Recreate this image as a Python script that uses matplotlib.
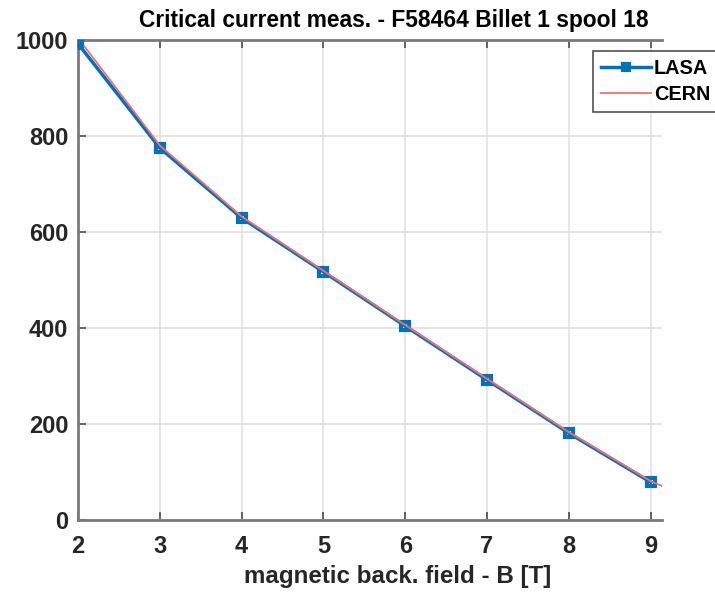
import matplotlib
matplotlib.use("Agg")
import matplotlib.pyplot as plt

field_lasa = [2, 3, 4, 5, 6, 7, 8, 9]
ic_lasa = [992, 775, 629, 517, 404, 292, 181, 79]
field_cern = [2.08, 3, 4, 5, 6, 7, 8, 9, 9.15]
ic_cern = [986, 780, 632, 519, 406, 294, 183, 81, 70]
xticks = [2, 3, 4, 5, 6, 7, 8, 9]
yticks = [0, 200, 400, 600, 800, 1000]

plt.rcParams['font.family'] = ['Liberation Sans', 'DejaVu Sans']
plt.rcParams['font.weight'] = 'bold'

fig = plt.figure(figsize=(7.15, 5.93), dpi=100)
ax = fig.add_axes([0.109, 0.123, 0.817, 0.810])

ax.plot(field_lasa, ic_lasa, color='#0072BD', lw=2.5, marker='s', ms=6,
        mfc='none', mew=3, label='LASA', zorder=3)
ax.plot(field_cern, ic_cern, color='#ff6b6b', lw=1.3, label='CERN', zorder=4)

ax.set_xlim(2, 9.14)
ax.set_ylim(0, 1000)
ax.set_xticks(xticks)
ax.set_yticks(yticks)
ax.grid(True, color='#e0e0e0', lw=1.2)
ax.set_axisbelow(True)
for s in ['left', 'bottom', 'top']:
    ax.spines[s].set_color('#7a7a7a')
    ax.spines[s].set_linewidth(2)
ax.spines['right'].set_visible(False)
ax.tick_params(direction='in', top=True, right=False, length=6, width=1.2,
               color='#4d4d4d', labelsize=17, labelcolor='#262626')
ax.tick_params(axis='x', pad=11)
ax.tick_params(axis='y', pad=7)
for lab in ax.get_xticklabels() + ax.get_yticklabels():
    lab.set_fontweight('bold')

ax.set_title('Critical current meas. - F58464 Billet 1 spool 18', fontsize=16.4,
             fontweight='bold', pad=9, x=0.541)
ax.set_xlabel('magnetic back. field - B [T]', fontsize=17.4, fontweight='bold',
              labelpad=5, color='#262626', x=0.548)

leg = ax.legend(loc='upper right', fontsize=14.3, frameon=True, fancybox=False,
                edgecolor='#262626', borderpad=0.4, handlelength=2.5,
                labelspacing=0.35, handletextpad=0.15,
                bbox_to_anchor=(718 / 715, 1 - 51 / 593),
                bbox_transform=fig.transFigure, borderaxespad=0)
leg.get_frame().set_linewidth(1.2)
leg.legend_handles[0].set_markerfacecolor('#0072BD')
leg.legend_handles[0].set_markersize(4.5)
for t in leg.get_texts():
    t.set_fontweight('bold')

fig.savefig('out.png', dpi=100)
